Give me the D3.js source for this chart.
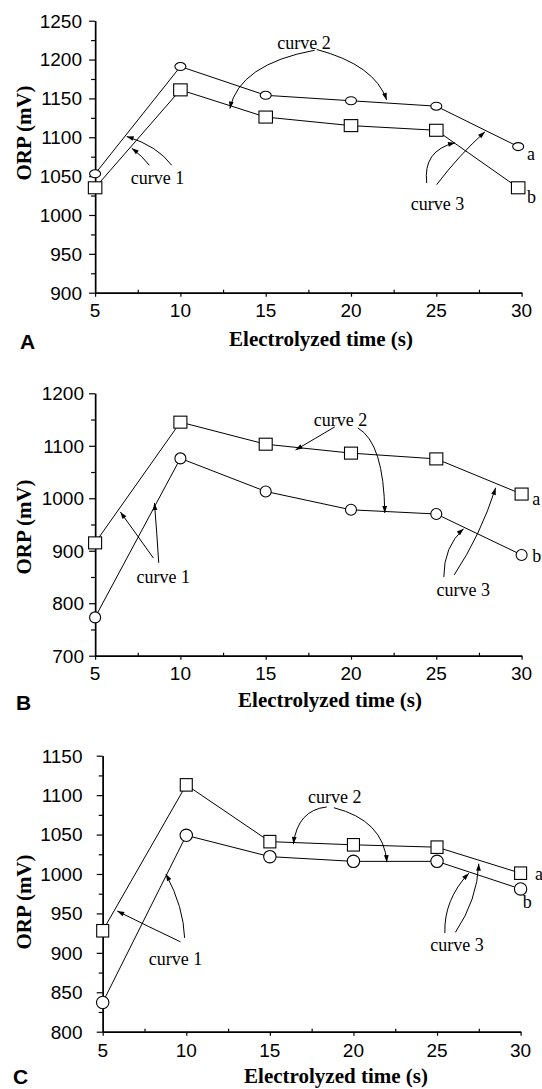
<!DOCTYPE html>
<html>
<head>
<meta charset="utf-8">
<script src="https://cdn.jsdelivr.net/npm/d3@7"></script>
<style>
  body { margin: 0; background: #fff; }
  svg { display: block; }
  .tick-label { font-family: "Liberation Sans", Arial, sans-serif; font-size: 19px; fill: #000; }
  .title { font-family: "Liberation Serif", "Times New Roman", serif; font-weight: bold; font-size: 21px; fill: #000; }
  .note { font-family: "Liberation Serif", "Times New Roman", serif; font-size: 18px; fill: #000; }
  .letter { font-family: "Liberation Sans", Arial, sans-serif; font-weight: bold; font-size: 21px; fill: #000; }
</style>
</head>
<body>
<svg class="view" width="542" height="1089"></svg>
<script>
/* global d3 */

// x values (electrolyzed time, s)
var timesA = [5, 10, 15, 20, 25, 29.8];
var times = [5, 10, 15, 20, 25, 30];
var xTicks = [5, 10, 15, 20, 25, 30];
var xMinor = [7.5, 12.5, 17.5, 22.5, 27.5];

// panel A
var circleA = [1053, 1191, 1154, 1147, 1140, 1088];
var squareA = [1035, 1161, 1126, 1115, 1109, 1035];
var yTicksA = [900, 950, 1000, 1050, 1100, 1150, 1200, 1250];
var yMinorA = [925, 975, 1025, 1075, 1125, 1175, 1225];

// panel B
var squareB = [915, 1145, 1103, 1086, 1075, 1008];
var circleB = [773, 1076, 1013, 978, 970, 892];
var yTicksB = [700, 800, 900, 1000, 1100, 1200];
var yMinorB = [750, 850, 950, 1050, 1150];

// panel C
var squareC = [928, 1113, 1041, 1037, 1034, 1001];
var circleC = [837, 1049, 1022, 1016, 1016, 981];
var yTicksC = [800, 850, 900, 950, 1000, 1050, 1100, 1150];
var yMinorC = [825, 875, 925, 975, 1025, 1075, 1125];

// annotation labels [text, t, mV] and arrows [tail, control, tip] in data units
var labelsA = [['curve 2', 17.24, 1213], ['curve 1', 8.66, 1040], ['curve 3', 25.07, 1007], ['a', 30.32, 1071, 'start'], ['b', 30.32, 1015, 'start']];
var arrowsA = [
    [[17.87, 1212], [13.45, 1194], [12.9, 1137]],
    [[17.99, 1213], [21.4, 1193], [22.09, 1148]],
    [[9.49, 1064], [8.65, 1089], [6.85, 1101]],
    [[8.18, 1064], [7.8, 1075], [7.15, 1086]],
    [[24.44, 1041], [24.2, 1083], [26.1, 1093]],
    [[25.02, 1039], [26.33, 1077], [27.85, 1107]]
];
var labelsB = [['curve 2', 19.38, 1138], ['curve 1', 8.99, 839], ['curve 3', 26.58, 813], ['a', 30.63, 987, 'start'], ['b', 30.63, 879, 'start']];
var arrowsB = [
    [[19.05, 1136], [17.9, 1114], [16.75, 1092]],
    [[20.4, 1134], [21.93, 1105], [21.98, 972]],
    [[8.42, 886], [7.45, 930], [6.48, 974]],
    [[8.73, 877], [8.62, 934], [8.48, 991]],
    [[25.44, 850], [25.44, 908], [26.6, 942]],
    [[26.05, 854], [27.6, 930], [28.48, 1020]]
];
var labelsC = [['curve 2', 18.88, 1090], ['curve 1', 9.36, 885], ['curve 3', 26.2, 902], ['a', 30.86, 992, 'start'], ['b', 30.13, 957, 'start']];
var arrowsC = [
    [[18.4, 1085], [16.66, 1081], [16.41, 1038]],
    [[18.83, 1084], [21.8, 1068], [22.0, 1015]],
    [[9.65, 914], [7.76, 933], [5.87, 953]],
    [[9.9, 919], [9.84, 958], [8.78, 1000]],
    [[25.47, 925], [25.4, 967], [26.9, 1001]],
    [[26.1, 926], [27.4, 967], [27.5, 1013]]
];

var svg = d3.select('.view');

var panels = [
    { letter: 'A', xs: timesA, circle: circleA, square: squareA, yTicks: yTicksA, yMinor: yMinorA,
      labels: labelsA, arrows: arrowsA, left: 95.1, right: 521.6, top: 20.7, bottom: 292.7,
      rx: 5.5, ry: 4, sw: 13.5, sh: 12, yTitleY: 133, xTitleX: 321, xTitleY: 346, letterX: 20, letterY: 349, xLabDy: 24.5, yLabX: 82 },
    { letter: 'B', xs: times, circle: circleB, square: squareB, yTicks: yTicksB, yMinor: yMinorB,
      labels: labelsB, arrows: arrowsB, left: 95.1, right: 521.6, top: 393.3, bottom: 655.7,
      rx: 5.5, ry: 5.5, sw: 13, sh: 12, yTitleY: 527, xTitleX: 330, xTitleY: 707, letterX: 16, letterY: 710, xLabDy: 24.5, yLabX: 84 },
    { letter: 'C', xs: times, circle: circleC, square: squareC, yTicks: yTicksC, yMinor: yMinorC,
      labels: labelsC, arrows: arrowsC, left: 102.7, right: 520.6, top: 755.7, bottom: 1031.7,
      rx: 6.2, ry: 6.2, sw: 12, sh: 12.5, yTitleY: 902, xTitleX: 336, xTitleY: 1083, letterX: 13, letterY: 1084, xLabDy: 25.5, yLabX: 82.5 }
];

panels.forEach(drawPanel);

function drawPanel(p) {
    var x = d3.scaleLinear().domain([5, 30]).range([p.left, p.right]);
    var y = d3.scaleLinear()
        .domain([p.yTicks[0], p.yTicks[p.yTicks.length - 1]])
        .range([p.bottom, p.top]);
    var g = svg.append('g');

    // major ticks point outward, minor x ticks point inward
    var yAxis = d3.axisLeft(y).tickValues(p.yTicks).tickSize(6).tickSizeOuter(0).tickFormat('');
    var yAxisMinor = d3.axisLeft(y).tickValues(p.yMinor).tickSize(4).tickSizeOuter(0).tickFormat('');
    var xAxis = d3.axisBottom(x).tickValues(xTicks).tickSize(4).tickSizeOuter(0).tickFormat('');
    var xAxisMinor = d3.axisTop(x).tickValues(xMinor).tickSize(3).tickSizeOuter(0).tickFormat('');

    g.append('g').attr('transform', 'translate(' + p.left + ',0)').call(yAxis);
    g.append('g').attr('transform', 'translate(' + p.left + ',0)').call(yAxisMinor);
    g.append('g').attr('transform', 'translate(0,' + p.bottom + ')').call(xAxis);
    g.append('g').attr('transform', 'translate(0,' + p.bottom + ')').call(xAxisMinor);
    g.selectAll('.domain').attr('stroke', '#000').attr('stroke-width', 1.4);
    g.selectAll('.tick line').attr('stroke', '#000').attr('stroke-width', 1.2);

    g.selectAll('.ylab')
        .data(p.yTicks)
        .enter().append('text')
        .attr('class', 'tick-label')
        .attr('x', p.yLabX)
        .attr('y', function (d) { return y(d); })
        .attr('dy', '0.36em')
        .attr('text-anchor', 'end')
        .text(function (d) { return d; });

    g.selectAll('.xlab')
        .data(xTicks)
        .enter().append('text')
        .attr('class', 'tick-label')
        .attr('x', function (d) { return x(d); })
        .attr('y', p.bottom + p.xLabDy)
        .attr('text-anchor', 'middle')
        .text(function (d) { return d; });

    g.append('text')
        .attr('class', 'title')
        .attr('transform', 'translate(31,' + p.yTitleY + ') rotate(-90)')
        .attr('text-anchor', 'middle')
        .text('ORP (mV)');

    g.append('text')
        .attr('class', 'title')
        .attr('x', p.xTitleX)
        .attr('y', p.xTitleY)
        .attr('text-anchor', 'middle')
        .text('Electrolyzed time (s)');

    g.append('text')
        .attr('class', 'letter')
        .attr('x', p.letterX)
        .attr('y', p.letterY)
        .text(p.letter);

    // series
    var line = d3.line()
        .x(function (d) { return x(d[0]); })
        .y(function (d) { return y(d[1]); });

    var circlePts = d3.zip(p.xs, p.circle);
    var squarePts = d3.zip(p.xs, p.square);

    [circlePts, squarePts].forEach(function (pts) {
        g.append('path')
            .datum(pts)
            .attr('d', line)
            .attr('fill', 'none')
            .attr('stroke', '#000')
            .attr('stroke-width', 1);
    });

    g.selectAll('.mk-c')
        .data(circlePts)
        .enter().append('ellipse')
        .attr('cx', function (d) { return x(d[0]); })
        .attr('cy', function (d) { return y(d[1]); })
        .attr('rx', p.rx)
        .attr('ry', p.ry)
        .attr('fill', '#fff')
        .attr('stroke', '#000')
        .attr('stroke-width', 1.1);

    g.selectAll('.mk-s')
        .data(squarePts)
        .enter().append('rect')
        .attr('x', function (d) { return x(d[0]) - p.sw / 2; })
        .attr('y', function (d) { return y(d[1]) - p.sh / 2; })
        .attr('width', p.sw)
        .attr('height', p.sh)
        .attr('fill', '#fff')
        .attr('stroke', '#000')
        .attr('stroke-width', 1.1);

    // annotations
    g.selectAll('.note')
        .data(p.labels)
        .enter().append('text')
        .attr('class', 'note')
        .attr('x', function (d) { return x(d[1]); })
        .attr('y', function (d) { return y(d[2]); })
        .attr('text-anchor', function (d) { return d[3] || 'middle'; })
        .text(function (d) { return d[0]; });

    p.arrows.forEach(function (a) {
        var p0 = [x(a[0][0]), y(a[0][1])],
            c = [x(a[1][0]), y(a[1][1])],
            p2 = [x(a[2][0]), y(a[2][1])];
        var path = d3.path();
        path.moveTo(p0[0], p0[1]);
        path.quadraticCurveTo(c[0], c[1], p2[0], p2[1]);
        g.append('path')
            .attr('d', path.toString())
            .attr('fill', 'none')
            .attr('stroke', '#000')
            .attr('stroke-width', 1);

        // arrow head along the end tangent
        var dx = p2[0] - c[0], dy = p2[1] - c[1];
        var len = Math.sqrt(dx * dx + dy * dy) || 1;
        var ux = dx / len, uy = dy / len;
        var L = 7, W = 2.4;
        var bx = p2[0] - ux * L, by = p2[1] - uy * L;
        g.append('path')
            .attr('d', 'M' + p2[0] + ',' + p2[1] +
                'L' + (bx - uy * W) + ',' + (by + ux * W) +
                'L' + (bx + uy * W) + ',' + (by - ux * W) + 'Z')
            .attr('fill', '#000');
    });
}
</script>
</body>
</html>
